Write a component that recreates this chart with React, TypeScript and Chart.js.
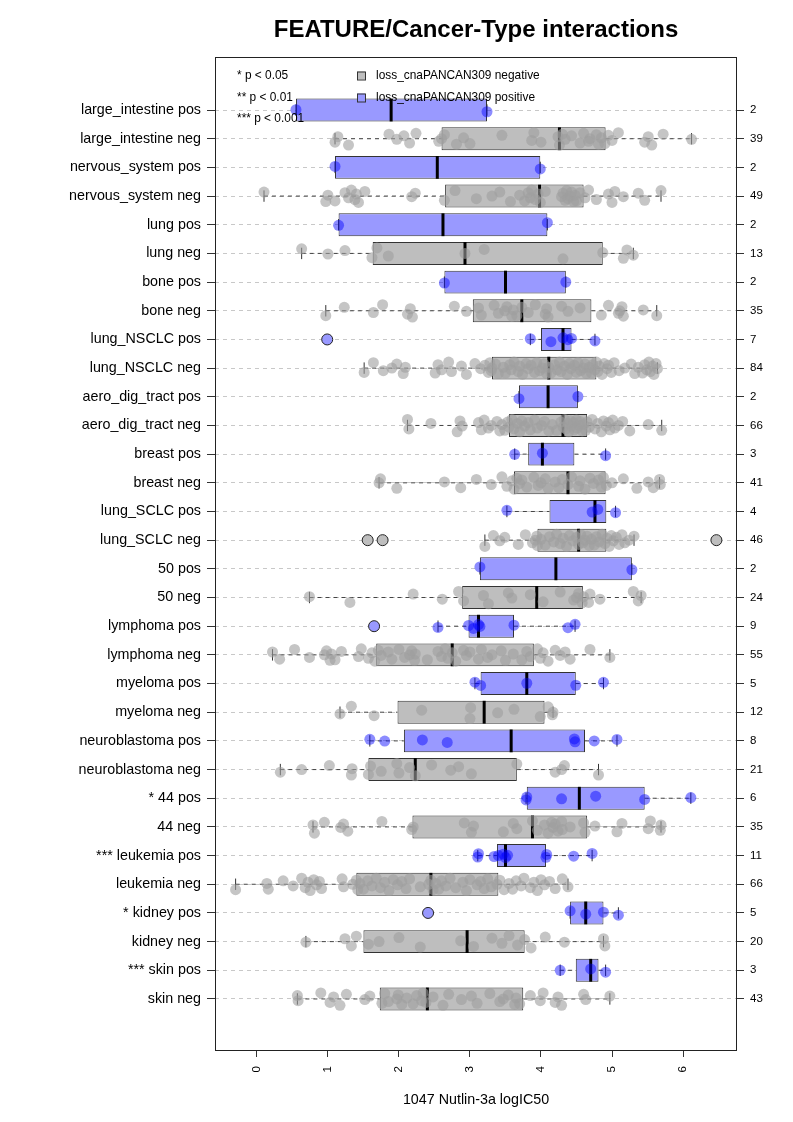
import React, { useEffect, useRef } from "react";
import { Chart, registerables } from "chart.js";

Chart.register(...registerables);

// ---------------- data (top row first) ----------------
const TITLE = "FEATURE/Cancer-Type interactions";
const X_TITLE = "1047 Nutlin-3a logIC50";
const LEGEND_P = ["* p < 0.05", "** p < 0.01", "*** p < 0.001"];
const LEGEND_GROUPS = ["loss_cnaPANCAN309 negative", "loss_cnaPANCAN309 positive"];
const X_TICKS = [0, 1, 2, 3, 4, 5, 6];
const X_MIN = -0.59;
const X_MAX = 6.76;

const ROW_LABELS = [
  "large_intestine pos", "large_intestine neg", "nervous_system pos", "nervous_system neg",
  "lung pos", "lung neg", "bone pos", "bone neg",
  "lung_NSCLC pos", "lung_NSCLC neg", "aero_dig_tract pos", "aero_dig_tract neg",
  "breast pos", "breast neg", "lung_SCLC pos", "lung_SCLC neg",
  "50 pos", "50 neg", "lymphoma pos", "lymphoma neg",
  "myeloma pos", "myeloma neg", "neuroblastoma pos", "neuroblastoma neg",
  "* 44 pos", "44 neg", "*** leukemia pos", "leukemia neg",
  "* kidney pos", "kidney neg", "*** skin pos", "skin neg",
];

const COUNTS = [2, 39, 2, 49, 2, 13, 2, 35, 7, 84, 2, 66, 3, 41, 4, 46, 2, 24, 9, 55, 5, 12, 8, 21, 6, 35, 11, 66, 5, 20, 3, 43];

const WHISKER_LO = [0.55, 1.10, 1.10, 0.10, 1.15, 0.63, 2.64, 0.97, 3.85, 1.51, 3.69, 2.12, 3.63, 1.72, 3.52, 3.21, 3.14, 0.74, 2.55, 0.22, 3.07, 1.17, 1.59, 0.33, 3.79, 0.79, 3.11, -0.30, 4.41, 0.69, 4.27, 0.57];
const Q1 = [0.55, 2.60, 1.10, 2.65, 1.15, 1.63, 2.64, 3.04, 4.00, 3.31, 3.69, 3.55, 3.82, 3.62, 4.12, 3.95, 3.14, 2.89, 2.98, 1.68, 3.15, 1.98, 2.07, 1.57, 3.80, 2.19, 3.38, 1.40, 4.41, 1.50, 4.49, 1.73];
const MEDIAN = [1.89, 4.26, 2.54, 3.98, 2.62, 2.93, 3.50, 3.73, 4.31, 4.11, 4.10, 4.31, 4.02, 4.38, 4.76, 4.53, 4.21, 3.94, 3.12, 2.75, 3.80, 3.20, 3.58, 2.23, 4.54, 3.88, 3.50, 2.45, 4.63, 2.96, 4.70, 2.40];
const Q3 = [3.24, 4.91, 3.99, 4.60, 4.09, 4.87, 4.35, 4.71, 4.43, 4.78, 4.52, 4.65, 4.47, 4.91, 4.92, 4.92, 5.28, 4.59, 3.62, 3.90, 4.49, 4.05, 4.62, 3.66, 5.46, 4.65, 4.07, 3.40, 4.88, 3.77, 4.81, 3.75];
const WHISKER_HI = [3.24, 6.12, 3.99, 5.69, 4.09, 5.30, 4.35, 5.63, 4.76, 5.64, 4.52, 5.70, 4.91, 5.67, 5.05, 5.31, 5.28, 5.41, 4.48, 4.97, 4.88, 4.17, 5.07, 4.81, 6.11, 5.69, 4.72, 4.38, 5.09, 4.88, 4.91, 4.97];

const OUTLIERS: number[][] = [
  [], [], [], [], [], [], [], [],
  [0.99], [], [], [],
  [], [], [], [1.56, 1.77, 6.47],
  [], [], [1.65], [],
  [], [], [], [],
  [], [], [], [],
  [2.41], [], [], [],
];

const POINTS: number[][] = [
  [0.55, 3.24],
  [1.10, 1.14, 1.29, 1.86, 1.97, 2.07, 2.15, 2.24, 2.56, 2.60, 2.64, 2.81, 2.91, 3.00, 3.45, 3.87, 3.90, 4.00, 4.24, 4.26, 4.30, 4.34, 4.43, 4.55, 4.60, 4.67, 4.69, 4.78, 4.81, 4.85, 4.90, 4.95, 5.00, 5.09, 5.46, 5.51, 5.56, 5.72, 6.12],
  [1.10, 3.99],
  [0.10, 0.97, 1.00, 1.10, 1.24, 1.29, 1.33, 1.38, 1.40, 1.43, 1.52, 2.18, 2.23, 2.64, 2.79, 3.09, 3.31, 3.42, 3.57, 3.70, 3.77, 3.82, 3.85, 3.87, 3.92, 3.96, 3.99, 4.06, 4.29, 4.31, 4.34, 4.36, 4.38, 4.41, 4.43, 4.46, 4.48, 4.50, 4.55, 4.62, 4.67, 4.78, 4.95, 5.00, 5.04, 5.16, 5.37, 5.46, 5.69],
  [1.15, 4.09],
  [0.63, 1.00, 1.24, 1.62, 1.69, 1.85, 2.93, 3.20, 4.31, 4.87, 5.16, 5.21, 5.30],
  [2.64, 4.35],
  [0.97, 1.23, 1.64, 1.77, 2.12, 2.16, 2.19, 2.78, 2.95, 3.12, 3.16, 3.34, 3.40, 3.49, 3.52, 3.59, 3.61, 3.66, 3.73, 3.82, 3.92, 4.06, 4.08, 4.10, 4.29, 4.38, 4.55, 4.85, 4.95, 5.09, 5.11, 5.14, 5.16, 5.44, 5.63],
  [3.85, 4.14, 4.31, 4.38, 4.43, 4.76],
  [1.51, 1.64, 1.78, 1.90, 1.97, 2.06, 2.09, 2.51, 2.55, 2.60, 2.70, 2.74, 2.88, 2.95, 3.07, 3.15, 3.21, 3.26, 3.28, 3.30,
   3.31, 3.36, 3.40, 3.47, 3.50, 3.56, 3.58, 3.62, 3.68, 3.70, 3.74, 3.79, 3.82, 3.86, 3.91, 3.94, 3.98, 4.02, 4.04, 4.08, 4.11,
   4.14, 4.19, 4.23, 4.26, 4.28, 4.33, 4.37, 4.40, 4.42, 4.47, 4.50, 4.52, 4.56, 4.60, 4.62, 4.64, 4.68, 4.71, 4.73, 4.76, 4.78,
   4.80, 4.82, 4.86, 4.89, 4.93, 4.95, 4.99, 5.03, 5.10, 5.18, 5.27, 5.32, 5.37, 5.43, 5.46, 5.49, 5.52, 5.54, 5.57, 5.59, 5.62, 5.64],
  [3.69, 4.52],
  [2.12, 2.14, 2.45, 2.82, 2.86, 2.89, 3.12, 3.16, 3.20, 3.26, 3.30, 3.38, 3.42, 3.45, 3.49, 3.53,
   3.55, 3.59, 3.62, 3.67, 3.70, 3.73, 3.77, 3.82, 3.85, 3.91, 3.95, 4.01, 4.05, 4.11, 4.16, 4.22, 4.28,
   4.31, 4.33, 4.35, 4.38, 4.39, 4.42, 4.43, 4.46, 4.47, 4.50, 4.51, 4.54, 4.55, 4.58, 4.60, 4.63, 4.65,
   4.68, 4.72, 4.76, 4.80, 4.85, 4.88, 4.92, 4.95, 4.97, 5.01, 5.04, 5.09, 5.15, 5.25, 5.51, 5.70],
  [3.63, 4.02, 4.91],
  [1.72, 1.74, 1.97, 2.64, 2.87, 3.09, 3.30, 3.45, 3.52, 3.59, 3.62, 3.66, 3.70, 3.73, 3.80, 3.90, 3.96, 4.00, 4.06, 4.10, 4.20, 4.25, 4.30, 4.38, 4.43, 4.53, 4.55, 4.62, 4.69, 4.74, 4.81, 4.85, 4.88, 4.92, 5.00, 5.16, 5.35, 5.51, 5.58, 5.67, 5.68],
  [3.52, 4.72, 4.80, 5.05],
  [3.21, 3.33, 3.42, 3.49, 3.68, 3.78, 3.88, 3.92, 3.94, 3.95, 4.00, 4.06, 4.12, 4.18, 4.22, 4.27, 4.31, 4.36, 4.40, 4.45, 4.50, 4.53, 4.56, 4.59, 4.62, 4.65, 4.68, 4.71, 4.75, 4.78, 4.82, 4.86, 4.90, 4.93, 4.96, 4.99, 5.02, 5.06, 5.10, 5.14, 5.18, 5.24, 5.31],
  [3.14, 5.28],
  [0.74, 1.31, 2.20, 2.61, 2.84, 2.91, 3.19, 3.26, 3.54, 3.59, 3.85, 4.03, 4.27, 4.46, 4.50, 4.53, 4.58, 4.60, 4.67, 4.69, 4.83, 5.30, 5.37, 5.41],
  [2.55, 2.98, 3.05, 3.12, 3.14, 3.62, 4.38, 4.48],
  [0.22, 0.32, 0.53, 0.74, 0.95, 0.98, 1.03, 1.05, 1.10, 1.19, 1.43, 1.47, 1.57, 1.62, 1.66, 1.71, 1.75, 1.85, 1.90, 2.00, 2.08, 2.15, 2.18, 2.22, 2.23, 2.40, 2.55, 2.60, 2.65, 2.69, 2.75, 2.80, 2.91, 2.95, 3.00, 3.12, 3.16, 3.25, 3.31, 3.44, 3.50, 3.61, 3.73, 3.80, 3.85, 3.95, 3.99, 4.03, 4.10, 4.20, 4.27, 4.34, 4.41, 4.69, 4.97],
  [3.07, 3.15, 3.80, 4.49, 4.88],
  [1.17, 1.33, 1.65, 2.32, 3.00, 3.01, 3.39, 3.62, 3.99, 4.10, 4.16, 4.17],
  [1.59, 1.80, 2.33, 2.68, 4.47, 4.48, 4.75, 5.07],
  [0.33, 0.63, 1.02, 1.33, 1.34, 1.57, 1.60, 1.75, 1.97, 2.00, 2.15, 2.23, 2.46, 2.73, 2.84, 3.02, 3.66, 4.20, 4.29, 4.33, 4.81],
  [3.79, 3.80, 4.29, 4.77, 5.46, 6.11],
  [0.79, 0.81, 0.95, 1.18, 1.22, 1.28, 1.76, 2.18, 2.20, 2.92, 3.02, 3.05, 3.47, 3.61, 3.66, 3.88, 3.95, 4.05, 4.10, 4.15, 4.17, 4.20, 4.24, 4.29, 4.30, 4.41, 4.60, 4.62, 4.76, 5.07, 5.14, 5.51, 5.54, 5.68, 5.69],
  [3.11, 3.12, 3.34, 3.40, 3.47, 3.50, 3.53, 4.07, 4.08, 4.46, 4.72],
  [-0.30, 0.14, 0.16, 0.37, 0.51, 0.63, 0.68, 0.72, 0.75, 0.80, 0.84, 0.88, 0.91, 1.20, 1.22, 1.35,
   1.40, 1.42, 1.45, 1.50, 1.56, 1.62, 1.68, 1.74, 1.80, 1.86, 1.92, 1.98, 2.04, 2.10, 2.15, 2.30, 2.42,
   2.45, 2.48, 2.52, 2.56, 2.60, 2.66, 2.72, 2.80, 2.90, 2.95, 3.00, 3.10, 3.15, 3.20, 3.25, 3.30, 3.38,
   3.42, 3.48, 3.55, 3.60, 3.65, 3.72, 3.76, 3.85, 3.90, 3.95, 4.00, 4.05, 4.12, 4.20, 4.30, 4.38],
  [4.41, 4.63, 4.88, 5.09],
  [0.69, 1.24, 1.33, 1.40, 1.57, 1.72, 2.00, 2.30, 2.87, 3.05, 3.31, 3.45, 3.55, 3.67, 3.77, 3.86, 4.06, 4.33, 4.88, 4.90],
  [4.27, 4.70, 4.91],
  [0.57, 0.58, 0.90, 1.03, 1.08, 1.17, 1.26, 1.52, 1.59, 1.76, 1.80, 1.85, 1.97, 1.99, 2.04, 2.11, 2.20, 2.25, 2.32, 2.34, 2.38, 2.48, 2.62, 2.70, 2.88, 3.02, 3.10, 3.28, 3.42, 3.47, 3.54, 3.63, 3.65, 3.70, 3.85, 3.99, 4.03, 4.20, 4.24, 4.29, 4.60, 4.63, 4.97],
];

// vertical jitter pattern (layout only, in row units)
const JITTER = [0.03, -0.17, 0.12, -0.06, 0.21, -0.12, 0.07, -0.22, 0.16, -0.02, 0.1, -0.15, 0.19, -0.09, 0.0, 0.14, -0.19];

// ---------------- styles ----------------
const FONT = "'Liberation Sans', Arial, Helvetica, sans-serif";
const GREY_FILL = "#bebebe";
const BLUE_FILL = "#9999ff";
const GREY_PT = "rgba(158,158,158,0.6)";
const BLUE_PT = "rgba(0,0,255,0.45)";
const DARK = "#333333";

const N = ROW_LABELS.length;
const yOf = (k: number) => N - k;
const isPos = (k: number) => ROW_LABELS[k].endsWith("pos");
const rowsOf = (pos: boolean) => ROW_LABELS.map((_, k) => k).filter((k) => isPos(k) === pos);

function buildConfig(): any {
  const boxes = (pos: boolean) =>
    rowsOf(pos).map((k) => ({ x: [Q1[k], Q3[k]], y: yOf(k) }));

  const whiskers: any[] = [];
  ROW_LABELS.forEach((_, k) => {
    const y = yOf(k);
    whiskers.push({ x: WHISKER_LO[k], y }, { x: Q1[k], y }, { x: Q1[k], y: null });
    whiskers.push({ x: Q3[k], y }, { x: WHISKER_HI[k], y }, { x: WHISKER_HI[k], y: null });
  });

  const staples: any[] = [];
  ROW_LABELS.forEach((_, k) => {
    staples.push({ x: WHISKER_LO[k], y: yOf(k) }, { x: WHISKER_HI[k], y: yOf(k) });
  });

  const medians = ROW_LABELS.map((_, k) => ({ x: MEDIAN[k], y: yOf(k) }));

  const pts = (pos: boolean) => {
    const out: any[] = [];
    rowsOf(pos).forEach((k) => {
      const amp = pos ? 0.35 : 1;
      POINTS[k].forEach((v, i) => {
        out.push({ x: v, y: yOf(k) + JITTER[(i + 5 * k) % JITTER.length] * amp });
      });
    });
    return out;
  };

  const outs = (pos: boolean) => {
    const out: any[] = [];
    rowsOf(pos).forEach((k) => OUTLIERS[k].forEach((v) => out.push({ x: v, y: yOf(k) })));
    return out;
  };

  const boxDs = (pos: boolean) => ({
    type: "bar",
    label: pos ? LEGEND_GROUPS[1] : LEGEND_GROUPS[0],
    indexAxis: "y",
    data: boxes(pos),
    backgroundColor: pos ? BLUE_FILL : GREY_FILL,
    borderColor: DARK,
    borderWidth: 1,
    borderSkipped: false,
    grouped: false,
    barPercentage: 0.8,
    categoryPercentage: 1,
    xAxisID: "x",
    yAxisID: "y",
    order: 6,
  });

  const yTicksBuild = (scale: any) => {
    scale.ticks = ROW_LABELS.map((_, k) => ({ value: k + 1 }));
  };

  return {
    type: "scatter",
    data: {
      datasets: [
        boxDs(false),
        boxDs(true),
        {
          type: "line",
          data: whiskers,
          showLine: true,
          spanGaps: false,
          borderColor: "#444444",
          borderWidth: 1,
          borderDash: [4, 4],
          pointRadius: 0,
          fill: false,
          xAxisID: "x",
          yAxisID: "y",
          order: 5,
        },
        {
          type: "scatter",
          data: staples,
          pointStyle: "line",
          rotation: 90,
          pointRadius: 5.7,
          borderColor: DARK,
          borderWidth: 1,
          xAxisID: "x",
          yAxisID: "y",
          order: 4,
        },
        {
          type: "scatter",
          data: medians,
          pointStyle: "line",
          rotation: 90,
          pointRadius: 11.4,
          borderColor: "#000000",
          borderWidth: 3,
          xAxisID: "x",
          yAxisID: "y",
          order: 3,
        },
        {
          type: "scatter",
          data: outs(false),
          pointRadius: 5.5,
          backgroundColor: GREY_FILL,
          borderColor: "#222222",
          borderWidth: 1,
          xAxisID: "x",
          yAxisID: "y",
          order: 2,
        },
        {
          type: "scatter",
          data: outs(true),
          pointRadius: 5.5,
          backgroundColor: BLUE_FILL,
          borderColor: "#222222",
          borderWidth: 1,
          xAxisID: "x",
          yAxisID: "y",
          order: 2,
        },
        {
          type: "scatter",
          data: pts(false),
          pointRadius: 5.5,
          backgroundColor: GREY_PT,
          borderWidth: 0,
          xAxisID: "x",
          yAxisID: "y",
          order: 1,
        },
        {
          type: "scatter",
          data: pts(true),
          pointRadius: 5.5,
          backgroundColor: BLUE_PT,
          borderWidth: 0,
          xAxisID: "x",
          yAxisID: "y",
          order: 1,
        },
      ],
    },
    options: {
      animation: false,
      responsive: false,
      events: [],
      layout: { padding: { top: 57, left: 0, right: 0, bottom: 0 } },
      plugins: {
        legend: { display: false },
        tooltip: { enabled: false },
        title: { display: false },
      },
      scales: {
        x: {
          type: "linear",
          position: "bottom",
          min: X_MIN,
          max: X_MAX,
          offset: false,
          afterBuildTicks: (scale: any) => {
            scale.ticks = X_TICKS.map((v) => ({ value: v }));
          },
          afterFit: (scale: any) => {
            scale.height = 72;
          },
          ticks: {
            autoSkip: false,
            minRotation: 90,
            maxRotation: 90,
            padding: 9,
            color: "#000",
            font: { family: FONT, size: 11.5 },
            callback: (v: any) => String(v),
          },
          grid: {
            drawOnChartArea: false,
            drawTicks: true,
            tickLength: 7,
            tickColor: DARK,
            offset: false,
          },
          border: { display: false },
          title: {
            display: true,
            text: X_TITLE,
            color: "#000",
            font: { family: FONT, size: 14.3 },
            padding: { top: 0, bottom: 13 },
          },
        },
        y: {
          type: "linear",
          position: "left",
          min: -0.78,
          max: 33.85,
          offset: false,
          afterBuildTicks: yTicksBuild,
          afterFit: (scale: any) => {
            scale.width = 215;
          },
          ticks: {
            autoSkip: false,
            padding: 6,
            color: "#000",
            font: { family: FONT, size: 14.3 },
            callback: (v: any) => ROW_LABELS[N - v] ?? "",
          },
          grid: {
            offset: false,
            drawOnChartArea: true,
            drawTicks: true,
            tickLength: 8,
            color: "#c8c8c8",
            lineWidth: 1,
            tickColor: DARK,
            tickBorderDash: [],
          },
          border: { display: false, dash: [4, 4] },
        },
        yR: {
          type: "linear",
          position: "right",
          min: -0.78,
          max: 33.85,
          offset: false,
          afterBuildTicks: yTicksBuild,
          afterFit: (scale: any) => {
            scale.width = 56;
          },
          ticks: {
            autoSkip: false,
            padding: 6,
            color: "#000",
            font: { family: FONT, size: 11.5 },
            callback: (v: any) => {
              const c = COUNTS[N - v];
              return c === undefined ? "" : String(c);
            },
          },
          grid: {
            offset: false,
            drawOnChartArea: false,
            drawTicks: true,
            tickLength: 7,
            tickColor: DARK,
          },
          border: { display: false },
        },
      },
    },
    plugins: [
      {
        id: "frameTitleLegend",
        afterDatasetsDraw(chart: any) {
          const { ctx, chartArea } = chart;
          const { left, right, top, bottom } = chartArea;
          ctx.save();
          // plot frame
          ctx.strokeStyle = "#222222";
          ctx.lineWidth = 1;
          ctx.setLineDash([]);
          ctx.strokeRect(Math.round(left) + 0.5, Math.round(top) + 0.5, Math.round(right - left) - 1, Math.round(bottom - top));
          // title
          ctx.fillStyle = "#000";
          ctx.textAlign = "center";
          ctx.textBaseline = "middle";
          ctx.font = `bold 24px ${FONT}`;
          ctx.fillText(TITLE, (left + right) / 2, top - 27);
          // p-value legend
          ctx.font = `11.9px ${FONT}`;
          ctx.textAlign = "left";
          const rowsY = [top + 18.5, top + 40.5, top + 62];
          LEGEND_P.forEach((t, i) => ctx.fillText(t, left + 22, rowsY[i]));
          // group legend
          [GREY_FILL, BLUE_FILL].forEach((c, i) => {
            const cy = rowsY[i];
            ctx.fillStyle = c;
            ctx.fillRect(left + 142, cy - 4, 8, 8);
            ctx.strokeStyle = DARK;
            ctx.strokeRect(left + 142.5, cy - 3.5, 8, 8);
            ctx.fillStyle = "#000";
            ctx.fillText(LEGEND_GROUPS[i], left + 161, cy);
          });
          ctx.restore();
        },
      },
    ],
  };
}

export default function App() {
  const ref = useRef<HTMLCanvasElement | null>(null);
  useEffect(() => {
    if (!ref.current) return;
    const chart = new Chart(ref.current, buildConfig());
    return () => chart.destroy();
  }, []);
  return (
    <div style={{ position: "absolute", left: 0, top: 0, width: 793, height: 1122, background: "#fff" }}>
      <canvas ref={ref} width={793} height={1122} style={{ display: "block", width: 793, height: 1122 }} />
    </div>
  );
}
